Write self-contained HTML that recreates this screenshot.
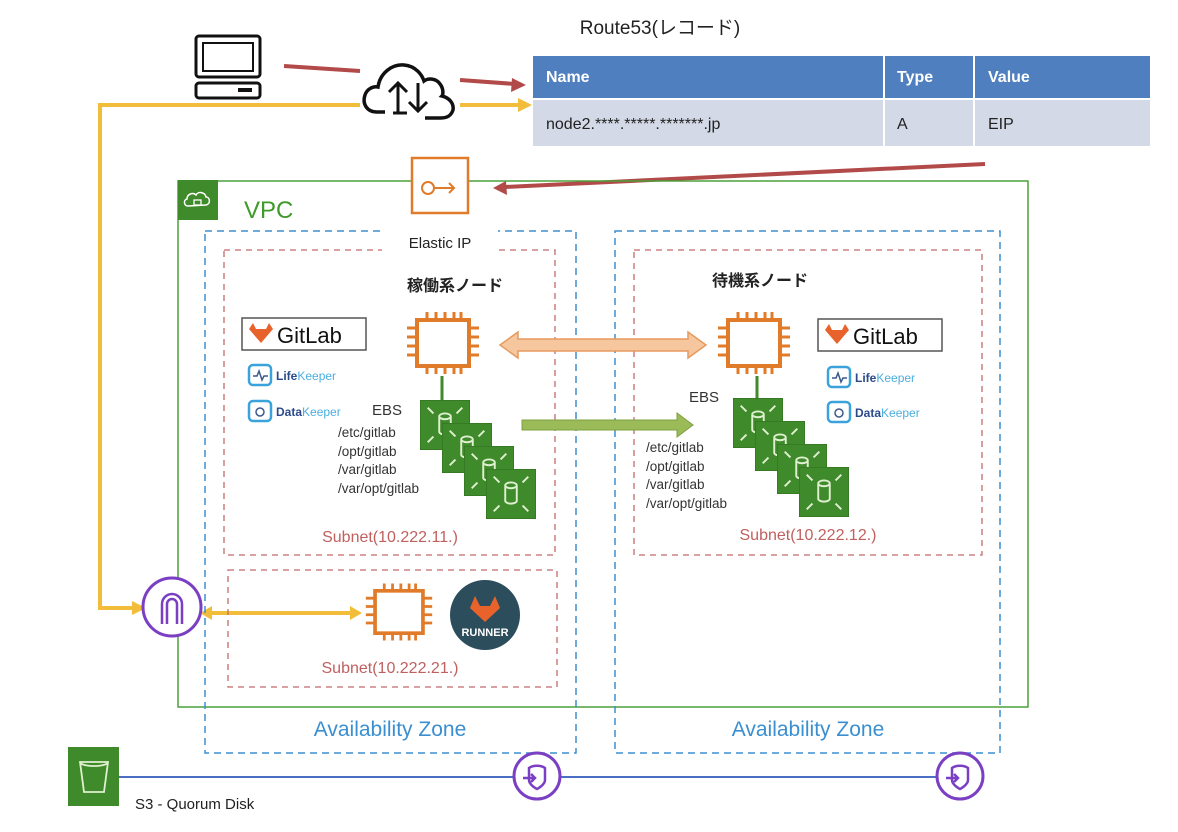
<!DOCTYPE html>
<html><head><meta charset="utf-8"><style>
body{margin:0;background:#fff}
svg{display:block;font-family:"Liberation Sans","Noto Sans CJK JP",sans-serif}
</style></head><body>
<svg width="1178" height="832" viewBox="0 0 1178 832" xmlns="http://www.w3.org/2000/svg">
<defs>
<symbol id="chip" viewBox="0 0 76 66">
<rect x="12" y="10" width="52" height="46" fill="#fff" stroke="#e07b2a" stroke-width="4"/>
<g stroke="#e07b2a" stroke-width="3">
<path d="M22 2v8M31 2v8M40 2v8M49 2v8M56 2v8M22 56v8M31 56v8M40 56v8M49 56v8M56 56v8M2 18h10M2 27h10M2 36h10M2 45h10M64 18h10M64 27h10M64 36h10M64 45h10"/>
</g></symbol>
<symbol id="ebs" viewBox="0 0 52 52">
<rect width="52" height="52" fill="#3f8a2a" stroke="#2e6b1e" stroke-width="1"/>
<g stroke="#dff0d0" stroke-width="2" fill="none">
<path d="M20 17v16M32 17v16M20 17a6 3 0 0 1 12 0a6 3 0 0 1-12 0M20 33a6 3 0 0 0 12 0"/>
<path d="M8 8l6 6M44 8l-6 6M8 44l6-6M44 44l-6-6"/>
</g></symbol>
<symbol id="lk" viewBox="0 0 120 30">
<rect x="3" y="5" width="22" height="20" rx="4" fill="none" stroke="#3ba3dc" stroke-width="2.5"/>
<path d="M7 16h4l2-5 3 9 2-4h4" fill="none" stroke="#3a5a8a" stroke-width="1.5"/>
<text x="30" y="20" font-size="12" font-weight="bold" fill="#2b4a8a">Life<tspan fill="#4aaee0" font-weight="normal">Keeper</tspan></text>
</symbol>
<symbol id="dk" viewBox="0 0 120 30">
<rect x="3" y="5" width="22" height="20" rx="4" fill="none" stroke="#3ba3dc" stroke-width="2.5"/>
<circle cx="14" cy="16" r="4" fill="none" stroke="#3a5a8a" stroke-width="1.5"/>
<text x="30" y="20" font-size="12" font-weight="bold" fill="#2b4a8a">Data<tspan fill="#4aaee0" font-weight="normal">Keeper</tspan></text>
</symbol>
<symbol id="gl" viewBox="0 0 126 34">
<rect x="1" y="1" width="124" height="32" fill="#fff" stroke="#555" stroke-width="1.5"/>
<path d="M8 12l4-6 3 6h10l3-6 4 6 -12 14z" fill="#e8632b"/>
<text x="36" y="26" font-size="22" fill="#111">GitLab</text>
</symbol>
<symbol id="vpe" viewBox="0 0 52 52">
<circle cx="26" cy="26" r="23" fill="#fff" stroke="#7b3fc4" stroke-width="3"/>
<path d="M18 18c4-3 12-3 16 0v12c0 5-8 9-8 9s-8-4-8-9z" fill="none" stroke="#7b3fc4" stroke-width="2.5"/>
<path d="M12 28h12M20 24l4 4-4 4" fill="none" stroke="#7b3fc4" stroke-width="2.5"/>
</symbol>
</defs>

<text x="660" y="34" font-size="19" text-anchor="middle" fill="#222">Route53(レコード)</text>
<rect x="533" y="56" width="350" height="42" fill="#4f7fbf"/>
<rect x="885" y="56" width="88" height="42" fill="#4f7fbf"/>
<rect x="975" y="56" width="175" height="42" fill="#4f7fbf"/>
<rect x="533" y="100" width="350" height="46" fill="#d3d9e6"/>
<rect x="885" y="100" width="88" height="46" fill="#d3d9e6"/>
<rect x="975" y="100" width="175" height="46" fill="#d3d9e6"/>
<g font-size="16" font-weight="bold" fill="#fff"><text x="546" y="82">Name</text><text x="897" y="82">Type</text><text x="988" y="82">Value</text></g>
<g font-size="16" fill="#222"><text x="546" y="129">node2.****.*****.*******.jp</text><text x="897" y="129">A</text><text x="988" y="129">EIP</text></g>

<!-- computer -->
<rect x="196" y="36" width="64" height="41" rx="3" fill="none" stroke="#111" stroke-width="3"/>
<rect x="203" y="43" width="50" height="28" fill="none" stroke="#111" stroke-width="2"/>
<rect x="196" y="83" width="64" height="15" rx="3" fill="none" stroke="#111" stroke-width="3"/>
<rect x="238" y="88" width="14" height="4" fill="#111"/>
<!-- cloud -->
<path d="M385 112h-8c-10 0-15-8-12-17 2-6 8-9 13-8 2-14 14-23 26-22 12 1 18 10 20 16 4-3 12-3 16 3 4 5 3 11 2 12 8 2 12 8 11 14-2 6-6 8-12 8h-16" fill="none" stroke="#111" stroke-width="3.5"/>
<path d="M398 113v-30M389 92l9-9 9 9M418 83v28M409 102l9 9 9-9M393 113h14" fill="none" stroke="#111" stroke-width="3"/>

<!-- red lines -->
<g stroke="#b24a4a" stroke-width="4" fill="#b24a4a">
<line x1="284" y1="66" x2="360" y2="71"/>
<line x1="460" y1="80" x2="515" y2="84"/>
<path d="M526 85l-14 -7 -1 14z" stroke="none"/>
<line x1="985" y1="164" x2="505" y2="187"/>
<path d="M493 188l13 -7 1 14z" stroke="none"/>
</g>
<!-- yellow lines -->
<g stroke="#f2bd3a" stroke-width="4" fill="none">
<path d="M360 105H100V608H135"/>
<line x1="460" y1="105" x2="520" y2="105"/>
<line x1="210" y1="613" x2="352" y2="613"/>
</g>
<g fill="#f2bd3a">
<path d="M532 105l-14-7v14z"/><path d="M146 608l-14-7v14z"/>
<path d="M200 613l12-7v14z"/><path d="M362 613l-12-7v14z"/>
</g>

<!-- VPC -->
<rect x="178" y="181" width="850" height="526" fill="none" stroke="#4aa03a" stroke-width="1.5"/>
<rect x="178" y="180" width="40" height="40" fill="#3f8a2a"/>
<path d="M188 206c-4 0-5-6-1-7 0-5 6-7 9-4 2-4 9-3 10 2 4 0 5 7 0 8z" fill="none" stroke="#fff" stroke-width="1.5"/>
<rect x="194" y="200" width="7" height="5" fill="none" stroke="#fff" stroke-width="1.3"/>
<text x="244" y="218" font-size="24" fill="#3f9a2a">VPC</text>

<!-- AZs -->
<g fill="none" stroke="#3b8fd0" stroke-width="1.5" stroke-dasharray="7,5">
<rect x="205" y="231" width="371" height="522"/>
<rect x="615" y="231" width="385" height="522"/>
</g>
<!-- subnets -->
<g fill="none" stroke="#c26b6b" stroke-width="1.3" stroke-dasharray="6,5">
<rect x="224" y="250" width="331" height="305"/>
<rect x="634" y="250" width="348" height="305"/>
<rect x="228" y="570" width="329" height="117"/>
</g>

<!-- Elastic IP -->
<rect x="382" y="225" width="116" height="26" fill="#fff"/>
<rect x="412" y="158" width="56" height="55" fill="#fff" stroke="#e07b2a" stroke-width="2.5"/>
<circle cx="428" cy="188" r="6" fill="none" stroke="#e07b2a" stroke-width="2"/>
<path d="M434 188h20M449 183l5 5-5 5" fill="none" stroke="#e07b2a" stroke-width="2"/>
<text x="440" y="248" font-size="15" text-anchor="middle" fill="#222">Elastic IP</text>

<g font-size="16" font-weight="bold" fill="#222">
<text x="455" y="291" text-anchor="middle">稼働系ノード</text>
<text x="760" y="286" text-anchor="middle">待機系ノード</text>
</g>

<use href="#chip" x="405" y="310" width="76" height="66"/>
<use href="#chip" x="716" y="310" width="76" height="66"/>
<line x1="442" y1="376" x2="442" y2="400" stroke="#3f8a2a" stroke-width="3"/>
<line x1="757" y1="376" x2="757" y2="398" stroke="#3f8a2a" stroke-width="3"/>

<!-- orange double arrow -->
<path d="M500 345l18-13v7h170v-7l18 13-18 13v-7h-170v7z" fill="#f6c79e" stroke="#e59a5e" stroke-width="1.5"/>
<!-- green arrow -->
<path d="M522 420h155v-7l16 12-16 12v-7h-155z" fill="#9bbb59" stroke="#7e9f40" stroke-width="1"/>

<use href="#gl" x="241" y="317" width="126" height="34"/>
<use href="#gl" x="817" y="318" width="126" height="34"/>
<use href="#lk" x="246" y="360" width="120" height="30"/>
<use href="#dk" x="246" y="396" width="120" height="30"/>
<use href="#lk" x="825" y="362" width="120" height="30"/>
<use href="#dk" x="825" y="397" width="120" height="30"/>

<use href="#ebs" x="420" y="400" width="50" height="50"/>
<use href="#ebs" x="442" y="423" width="50" height="50"/>
<use href="#ebs" x="464" y="446" width="50" height="50"/>
<use href="#ebs" x="486" y="469" width="50" height="50"/>
<use href="#ebs" x="733" y="398" width="50" height="50"/>
<use href="#ebs" x="755" y="421" width="50" height="50"/>
<use href="#ebs" x="777" y="444" width="50" height="50"/>
<use href="#ebs" x="799" y="467" width="50" height="50"/>

<g font-size="15" fill="#333">
<text x="372" y="415">EBS</text>
<text x="689" y="402">EBS</text>
</g>
<g font-size="13.5" fill="#333">
<text x="338" y="437">/etc/gitlab</text><text x="338" y="456">/opt/gitlab</text><text x="338" y="474">/var/gitlab</text><text x="338" y="493">/var/opt/gitlab</text>
<text x="646" y="452">/etc/gitlab</text><text x="646" y="471">/opt/gitlab</text><text x="646" y="489">/var/gitlab</text><text x="646" y="508">/var/opt/gitlab</text>
</g>
<g font-size="16" fill="#c0605f" text-anchor="middle">
<text x="390" y="542">Subnet(10.222.11.)</text>
<text x="808" y="540">Subnet(10.222.12.)</text>
<text x="390" y="673">Subnet(10.222.21.)</text>
</g>

<!-- gateway -->
<circle cx="172" cy="607" r="29" fill="#fff" stroke="#7b3fc4" stroke-width="3"/>
<path d="M162 624v-20a10 10 0 0 1 20 0v20M167 624v-20a5 5 0 0 1 10 0v20" fill="none" stroke="#7b3fc4" stroke-width="2.5"/>
<use href="#chip" x="364" y="580" width="70" height="64"/>
<circle cx="485" cy="615" r="35" fill="#2c4d5c"/>
<path d="M470 608l5-12 5 10h10l5-10 5 12-15 14z" fill="#e8632b"/>
<text x="485" y="636" font-size="11" font-weight="bold" fill="#fff" text-anchor="middle">RUNNER</text>

<g font-size="21" fill="#3b8fd0" text-anchor="middle">
<text x="390" y="736">Availability Zone</text>
<text x="808" y="736">Availability Zone</text>
</g>

<!-- S3 -->
<rect x="68" y="747" width="51" height="59" fill="#3f8a2a"/>
<path d="M80 762h28l-4 30h-20z M80 762a14 4 0 0 0 28 0" fill="none" stroke="#dff0d0" stroke-width="1.8"/>
<line x1="119" y1="777" x2="513" y2="777" stroke="#4a6fc4" stroke-width="2"/>
<line x1="561" y1="777" x2="938" y2="777" stroke="#4a6fc4" stroke-width="2"/>
<use href="#vpe" x="511" y="750" width="52" height="52"/>
<use href="#vpe" x="934" y="750" width="52" height="52"/>
<text x="135" y="809" font-size="15" fill="#222">S3 - Quorum Disk</text>
</svg>
</body></html>
